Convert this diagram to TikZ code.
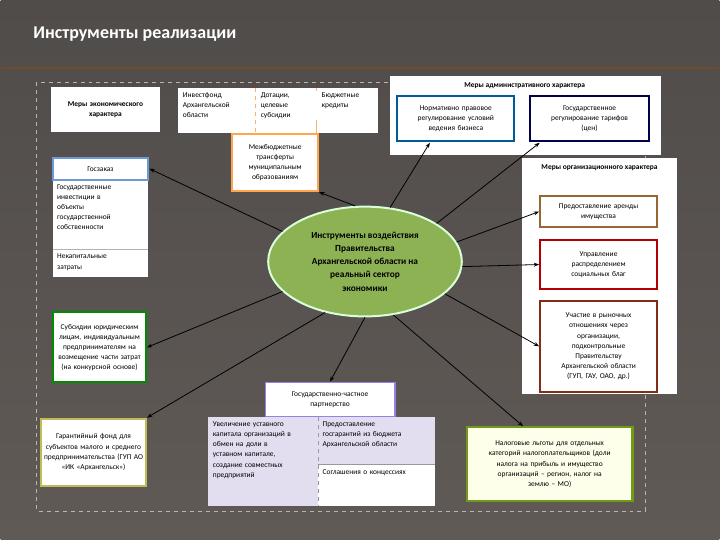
\documentclass[tikz,border=0pt]{standalone}
\usepackage{fontspec}
\setmainfont{Carlito}
\usetikzlibrary{shapes.geometric,arrows.meta}
\definecolor{lav}{RGB}{226,222,240}
\definecolor{bgA}{RGB}{80,76,74}
\definecolor{bgB}{RGB}{96,90,86}
\definecolor{ellg}{RGB}{141,178,84}
\begin{document}
\begin{tikzpicture}[x=0.75pt,y=-0.75pt,
  box/.style={draw=#1,line width=1.6pt,fill=white,inner sep=1pt,align=center,text=black,font=\fontsize{5.6}{7.6}\selectfont},
  plain/.style={fill=white,inner sep=1pt,align=left,text=black,font=\fontsize{5.6}{7.6}\selectfont},
  arr/.style={-{Stealth[length=4pt,width=3pt]},line width=0.6pt,black}]
\shade[top color=bgA,bottom color=bgB] (0,0) rectangle (720,540);
\node[anchor=west,text=white,font=\bfseries\fontsize{13.5}{15}\selectfont] (title) at (28,34) {Инструменты реализации};
\draw[brown!60!black,line width=1pt] (0,68) -- (720,68);
\draw[white!55!bgB,dashed,line width=0.4pt] (36,82) rectangle (646,512);
% left top
\node[plain,align=center,minimum width=110pt*0.75,text width=100*0.75pt,minimum height=45*0.75pt,font=\bfseries\fontsize{5.6}{7.6}\selectfont] (econ) at (105,110) {Меры экономического\\характера};
% top table
\fill[white] (178,88) rectangle (378,133);
\draw[orange!60,dashed] (255,88) -- (255,133);
\draw[orange!60] (316,88) -- (316,133);
\node[plain,anchor=north west,text width=70*0.75pt] (inv) at (181,91) {Инвестфонд\\Архангельской\\области};
\node[plain,anchor=north west,text width=55*0.75pt] (dot) at (259,91) {Дотации,\\целевые\\субсидии};
\node[plain,anchor=north west,text width=55*0.75pt] (bud) at (320,91) {Бюджетные\\кредиты};
\node[box=orange!70,minimum width=86*0.75pt,minimum height=57*0.75pt,text width=80*0.75pt] (mbt) at (275,163) {Межбюджетные\\трансферты\\муниципальным\\образованиям};
% goszakaz
\fill[white] (52,180) rectangle (148,278);
\draw[black!30] (52,250) -- (148,250);
\node[box=cyan!50!blue!60,minimum width=96*0.75pt,minimum height=22*0.75pt] (gz) at (100,169) {Госзаказ};
\node[plain,anchor=north west,text width=88*0.75pt,fill=none] (gi) at (55,183) {Государственные\\инвестиции в\\объекты\\государственной\\собственности};
\node[plain,anchor=north west,text width=88*0.75pt,fill=none] (nz) at (55,253) {Некапитальные\\затраты};
% admin
\fill[white] (390,76) rectangle (662,155);
\node[text=black,font=\bfseries\fontsize{5.6}{7}\selectfont] (admt) at (525,86) {Меры административного характера};
\node[box=blue!40!cyan!60!black,minimum width=117*0.75pt,minimum height=45*0.75pt,text width=112*0.75pt] (norm) at (456,119) {Нормативно правовое\\регулирование условий\\ведения бизнеса};
\node[box=blue!30!black,minimum width=119*0.75pt,minimum height=45*0.75pt,text width=112*0.75pt] (tar) at (590,119) {Государственное\\регулирование тарифов\\(цен)};
% org
\fill[white] (522,158) rectangle (678,395);
\node[text=black,font=\bfseries\fontsize{5.6}{7}\selectfont] (orgt) at (600,168) {Меры организационного характера};
\node[box=brown!80!black,minimum width=117*0.75pt,minimum height=31*0.75pt,text width=112*0.75pt] (ar) at (599,212) {Предоставление аренды\\имущества};
\node[box=red!70!black,minimum width=117*0.75pt,minimum height=49*0.75pt,text width=112*0.75pt] (upr) at (599,265) {Управление\\распределением\\социальных благ};
\node[box=brown!60!red!60!black,minimum width=117*0.75pt,minimum height=91*0.75pt,text width=112*0.75pt] (uch) at (599,347) {Участие в рыночных\\отношениях через\\организации,\\подконтрольные\\Правительству\\Архангельской области\\(ГУП, ГАУ, ОАО, др.)};
% ellipse
\node[ellipse,fill=ellg,draw=white!85!green,line width=1.5pt,minimum width=194*0.75pt,minimum height=110*0.75pt,inner sep=0pt,align=center,text=black,font=\bfseries\fontsize{7}{10}\selectfont] (ell) at (365,262) {Инструменты воздействия\\Правительства\\Архангельской области на\\реальный сектор\\экономики};
% subsidies
\node[box=green!55!black,minimum width=93*0.75pt,minimum height=70*0.75pt,text width=90*0.75pt] (sub) at (99,348) {Субсидии юридическим\\лицам, индивидуальным\\предпринимателям на\\возмещение части затрат\\(на конкурсной основе)};
\node[box=olive!55!white,minimum width=105*0.75pt,minimum height=67*0.75pt,text width=102*0.75pt] (gar) at (93,453) {Гарантийный фонд для\\субъектов малого и среднего\\предпринимательства (ГУП АО\\«ИК «Архангельск»)};
\node[box=violet!40!blue!50,minimum width=130*0.75pt,minimum height=34*0.75pt,text width=125*0.75pt,line width=1pt] (gchp) at (330,400) {Государственно-частное\\партнерство};
% bottom table
\fill[lav] (208,418) rectangle (318,507);
\fill[lav] (318,418) rectangle (435,465);
\fill[white] (318,465) rectangle (435,507);
\draw[black!40,dashed] (318,418) -- (318,507);
\draw[black!40] (318,465) -- (435,465);
\node[plain,fill=none,anchor=north west,text width=105*0.75pt] (uv) at (211,421) {Увеличение уставного\\капитала организаций в\\обмен на доли в\\уставном капитале,\\создание совместных\\предприятий};
\node[plain,fill=none,anchor=north west,text width=110*0.75pt] (pg) at (321,421) {Предоставление\\госгарантий из бюджета\\Архангельской области};
\node[plain,fill=none,anchor=north west,text width=110*0.75pt] (sk) at (321,469) {Соглашения о концессиях};
\node[box=olive!60!green,fill=green!8!yellow!8,minimum width=166*0.75pt,minimum height=74*0.75pt,text width=160*0.75pt] (tax) at (550,465) {Налоговые льготы для отдельных\\категорий налогоплательщиков (доли\\налога на прибыль и имущество\\организаций -- регион, налог на\\землю -- МО)};
% arrows
\draw[arr] (ell.160) -- (gz.east);
\draw[arr] (ell.100) -- (mbt.south east);
\draw[arr] (ell.65) -- (430,143);
\draw[arr] (ell.28) -- (540,143);
\draw[arr] (ell.12) -- (ar.west);
\draw[arr] (ell.-3) -- (upr.west);
\draw[arr] (ell.-22) -- (uch.west);
\draw[arr] (ell.-160) -- (sub.east);
\draw[arr] (ell.-128) -- (gar.north east);
\draw[arr] (ell.south) -- (gchp.north);
\draw[arr] (ell.-62) -- ([xshift=-20pt]tax.north);
\useasboundingbox (0,0) rectangle (720,540);
\end{tikzpicture}
\end{document}
